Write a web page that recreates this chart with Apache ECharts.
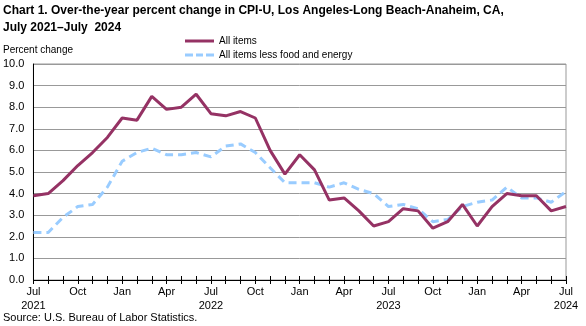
<!DOCTYPE html>
<html><head><meta charset="utf-8">
<script src="https://cdn.jsdelivr.net/npm/echarts@6/dist/echarts.min.js"></script>
<style>html,body{margin:0;padding:0;background:#fff}#c{width:586px;height:326px}</style>
</head><body><div id="c"></div>
<script>
const months = ["Jul 2021","Aug 2021","Sep 2021","Oct 2021","Nov 2021","Dec 2021",
"Jan 2022","Feb 2022","Mar 2022","Apr 2022","May 2022","Jun 2022","Jul 2022","Aug 2022","Sep 2022","Oct 2022","Nov 2022","Dec 2022",
"Jan 2023","Feb 2023","Mar 2023","Apr 2023","May 2023","Jun 2023","Jul 2023","Aug 2023","Sep 2023","Oct 2023","Nov 2023","Dec 2023",
"Jan 2024","Feb 2024","Mar 2024","Apr 2024","May 2024","Jun 2024","Jul 2024"];
const allItems = [3.9,4.0,4.6,5.3,5.9,6.6,7.5,7.4,8.5,7.9,8.0,8.6,7.7,7.6,7.8,7.5,6.0,4.9,5.8,5.1,3.7,3.8,3.2,2.5,2.7,3.3,3.2,2.4,2.7,3.5,2.5,3.4,4.0,3.9,3.9,3.2,3.4];
const core = [2.2,2.2,2.9,3.4,3.5,4.3,5.5,5.9,6.1,5.8,5.8,5.9,5.7,6.2,6.3,5.9,5.2,4.5,4.5,4.5,4.3,4.5,4.2,4.0,3.4,3.5,3.3,2.7,2.8,3.4,3.6,3.7,4.3,3.8,3.8,3.6,4.1];
const seriesNames = ["All items","All items less food and energy"];
const yTicks = {min:0, max:10, interval:1};

const chart = echarts.init(document.getElementById('c'), null, {renderer:'canvas'});
const font = '"Liberation Sans", Arial, sans-serif';
const xAxisBase = {
  type:'category', data:months, boundaryGap:false,
  axisLine:{show:true, lineStyle:{color:'#000', width:1}},
  splitLine:{show:false}
};
chart.setOption({
  animation:false,
  textStyle:{fontFamily:font},
  title:[
    {text:'Chart 1. Over-the-year percent change in CPI-U, Los Angeles-Long Beach-Anaheim, CA,\nJuly 2021\u2013July  2024',
     left:3, top:2, padding:0, textStyle:{fontSize:12, fontWeight:'bold', color:'#000', lineHeight:17, fontFamily:font}},
    {text:'Percent change', left:3, top:45, padding:0, textStyle:{fontSize:10, fontWeight:'normal', color:'#000', fontFamily:font}},
    {text:'Source: U.S. Bureau of Labor Statistics.', left:3, top:312, padding:0, textStyle:{fontSize:11, fontWeight:'normal', color:'#000', fontFamily:font}}
  ],
  legend:{
    orient:'vertical', left:185, top:36, padding:0, itemWidth:29, itemHeight:3, itemGap:4,
    textStyle:{fontSize:10, color:'#000', fontFamily:font, padding:[0,0,0,0]},
    data:[
      {name:seriesNames[0], icon:'rect'},
      {name:seriesNames[1], icon:'path://M0,0h8v3h-8z M11,0h7v3h-7z M21,0h8v3h-8z'}
    ]
  },
  grid:{left:32, right:20, top:64, bottom:46, show:true, borderColor:'#999', borderWidth:1},
  xAxis:[
    Object.assign({}, xAxisBase, {
      axisTick:{show:true, inside:false, length:4, interval:0, lineStyle:{color:'#000'}},
      axisLabel:{interval:2, color:'#000', fontSize:11, margin:5, lineHeight:14,
        formatter:function(v){const p=v.split(' '); return p[0]==='Jul'? p[0]+'\n'+p[1] : p[0];}}
    }),
    Object.assign({}, xAxisBase, {
      position:'bottom',
      axisTick:{show:true, inside:true, length:4, interval:0, lineStyle:{color:'#000'}},
      axisLabel:{show:false}
    })
  ],
  yAxis:{
    type:'value', min:yTicks.min, max:yTicks.max, interval:yTicks.interval,
    axisLine:{show:true, lineStyle:{color:'#000'}},
    axisTick:{show:false},
    splitLine:{show:true, lineStyle:{color:'#999', width:1}},
    axisLabel:{color:'#000', fontSize:11, margin:9, formatter:function(v){return v.toFixed(1);}}
  },
  series:[
    {name:seriesNames[0], type:'line', data:allItems, symbol:'none', z:3,
     lineStyle:{color:'#953264', width:3}, itemStyle:{color:'#953264'}},
    {name:seriesNames[1], type:'line', data:core, symbol:'none', z:2,
     lineStyle:{color:'#99CCFF', width:3, type:[8,5]}, itemStyle:{color:'#99CCFF'}}
  ]
});
</script></body></html>
